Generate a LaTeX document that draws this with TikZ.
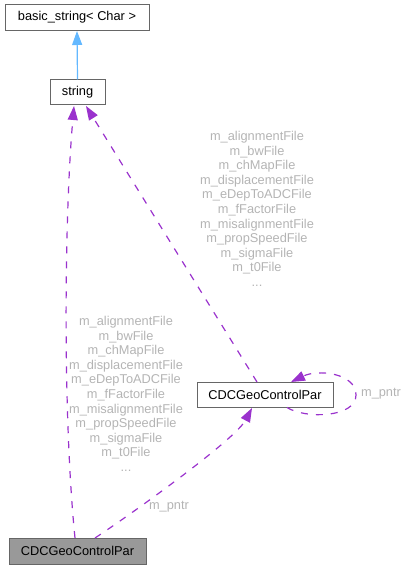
\documentclass[tikz,border=0pt]{standalone}
\usepackage{fontspec}
\setmainfont{Liberation Sans}
\usetikzlibrary{arrows.meta}
\definecolor{edgepurple}{HTML}{9A32CD}
\definecolor{edgeblue}{HTML}{63B8FF}
\definecolor{boxborder}{HTML}{666666}
\definecolor{boxfill}{HTML}{999999}
\definecolor{labelgrey}{HTML}{B4B4B4}
\tikzset{
  classbox/.style={draw=boxborder, line width=1pt, inner sep=0pt, font=\fontsize{12.8}{14.7}\selectfont, text=black},
  edgelabel/.style={inner sep=0pt, align=center, text=labelgrey, font=\fontsize{12.8}{14.6}\selectfont},
  usage/.style={draw=edgepurple, line width=1.2pt, dash pattern=on 7pt off 8pt, -{Triangle[length=14pt,width=10pt]}},
  inherit/.style={draw=edgeblue, line width=1.2pt, -{Triangle[length=14pt,width=10pt]}}
}
\begin{document}
\begin{tikzpicture}[x=1pt,y=-1pt]
\useasboundingbox (0,0) rectangle (408,569);
\node[classbox, minimum width=144pt, minimum height=26pt] (basic) at (77,17.5) {basic\_string< Char >};
\node[classbox, minimum width=55pt, minimum height=25pt] (str) at (77.5,92.5) {string};
\node[classbox, minimum width=136pt, minimum height=25pt] (cdc) at (265,394.5) {CDCGeoControlPar};
\node[classbox, fill=boxfill, minimum width=137pt, minimum height=26pt] (cdcmain) at (77.5,551) {CDCGeoControlPar};
\coordinate (strb1) at (74,106);
\coordinate (strb2) at (86,106);
\coordinate (mainT1) at (75,538);
\coordinate (mainT2) at (95,538);
\coordinate (cdcT) at (257,382);
\coordinate (cdcB) at (252,408);
\coordinate (loopS) at (287,407.5);
\coordinate (loopE) at (291,382);
\draw[inherit] (str.north) -- (basic.south);
\draw[usage] (mainT1) .. controls (63,420) and (64,220) .. (strb1);
\draw[usage] (cdcT) -- (strb2);
\draw[usage] (mainT2) .. controls (130,515) and (235,440) .. (cdcB);
\draw[usage] (loopS) .. controls (305,419) and (356,418) .. (356,395) .. controls (356,373) and (318,369) .. (loopE);
\node[edgelabel, anchor=north] (lblleft) at (126,316) {m\_alignmentFile\\m\_bwFile\\m\_chMapFile\\m\_displacementFile\\m\_eDepToADCFile\\m\_fFactorFile\\m\_misalignmentFile\\m\_propSpeedFile\\m\_sigmaFile\\m\_t0File\\...};
\node[edgelabel, anchor=north] (lblright) at (257,131) {m\_alignmentFile\\m\_bwFile\\m\_chMapFile\\m\_displacementFile\\m\_eDepToADCFile\\m\_fFactorFile\\m\_misalignmentFile\\m\_propSpeedFile\\m\_sigmaFile\\m\_t0File\\...};
\node[edgelabel] (lblpntr) at (169,507) {m\_pntr};
\node[edgelabel] (lblself) at (381,394) {m\_pntr};
\end{tikzpicture}
\end{document}
